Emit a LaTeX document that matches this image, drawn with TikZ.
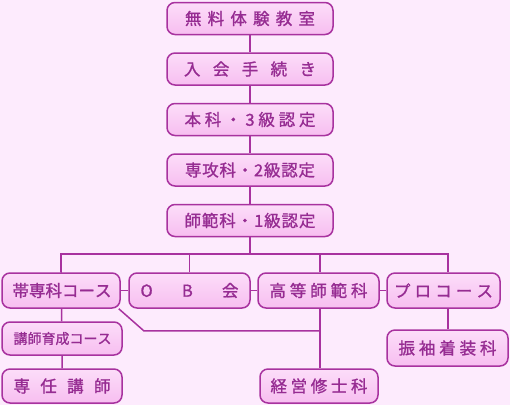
\documentclass[tikz,border=0pt]{standalone}
\usepackage{fontspec}
\usepackage{xcolor}
\usepackage{tikz}
\usetikzlibrary{positioning,calc,backgrounds}

\newfontfamily\jpfont[FakeBold=1.2]{Noto Sans CJK JP}
\definecolor{bgpink}{HTML}{FDEBFD}
\definecolor{boxtop}{HTML}{FCDDF9}
\definecolor{boxbot}{HTML}{F7BEF0}
\definecolor{edgepurple}{HTML}{A8329F}
\definecolor{textpurple}{HTML}{962C92}
\newcommand{\spread}[2]{\makebox[#1][s]{#2}}

\begin{document}
\begin{tikzpicture}[
  x=1pt,y=-1pt,
  node distance=17pt,
  every node/.style={font=\jpfont\fontsize{16.5}{18}\selectfont,text=textpurple},
  course/.style={draw=edgepurple,line width=1.5pt,rounded corners=8pt,
                 top color=boxtop,bottom color=boxbot,align=center,inner sep=0pt},
  stage/.style={course,minimum width=166pt,minimum height=32pt},
  link/.style={draw=edgepurple,line width=1.5pt}
]
  \useasboundingbox (0,0) rectangle (510,405);

  % main line
  \node[stage] (trial) at (250,18.5) {\spread{130pt}{無\hfil 料\hfil 体\hfil 験\hfil 教\hfil 室}};
  \node[stage,below=of trial] (entry) {\spread{132pt}{入\hfil 会\hfil 手\hfil 続\hfil き}};
  \node[stage,below=of entry] (honka) {\spread{131pt}{本\hfil 科\hfil ・\hfil 3\hfil 級\hfil 認\hfil 定}};
  \node[stage,below=of honka] (senko) {\spread{130pt}{専\hfil 攻\hfil 科\hfil ・\hfil 2\hfil 級\hfil 認\hfil 定}};
  \node[stage,below=of senko] (shihan){\spread{131pt}{師\hfil 範\hfil 科\hfil ・\hfil 1\hfil 級\hfil 認\hfil 定}};

  % branch row
  \node[course,minimum width=118pt,minimum height=35pt] (taisen) at (61,290.5)
       {\spread{97pt}{帯\hfil 専\hfil 科\hfil コ\hfil ー\hfil ス}};
  \node[course,minimum width=121pt,minimum height=35pt] (ob) at (189.5,290.5)
       {\spread{98pt}{O\hfil B\hfil 会}};
  \node[course,minimum width=121pt,minimum height=35pt] (koto) at (318.5,290.5)
       {\spread{98pt}{高\hfil 等\hfil 師\hfil 範\hfil 科}};
  \node[course,minimum width=113pt,minimum height=35pt] (pro) at (443.5,290.5)
       {\spread{99pt}{プ\hfil ロ\hfil コ\hfil ー\hfil ス}};

  % lower boxes
  \node[course,minimum width=120pt,minimum height=33pt] (koshi) at (62,338.5)
       {\fontsize{14}{16}\selectfont\spread{97pt}{講\hfil 師\hfil 育\hfil 成\hfil コ\hfil ー\hfil ス}};
  \node[course,minimum width=120pt,minimum height=34pt] (sennin) at (62,386)
       {\spread{97pt}{専\hfil 任\hfil 講\hfil 師}};
  \node[course,minimum width=118pt,minimum height=34pt] (keiei) at (319,386)
       {\spread{97pt}{経\hfil 営\hfil 修\hfil 士\hfil 科}};
  \node[course,minimum width=121pt,minimum height=36pt] (furisode) at (447.5,348)
       {\spread{98pt}{振\hfil 袖\hfil 着\hfil 装\hfil 科}};

  % connectors, behind the boxes
  \begin{scope}[on background layer]
    \fill[bgpink] (0,0) rectangle (510,405);
    \coordinate (bus) at (250,254);
    \draw[link] (trial) -- (entry) -- (honka) -- (senko) -- (shihan) -- (bus);
    \draw[link] (taisen.north) |- (bus) -| ([xshift=4.5pt]pro.north);
    \draw[link] (ob.north) -- (ob.north |- bus);
    \draw[link] ([xshift=1.5pt]koto.north) -- ([xshift=1.5pt]koto.north |- bus);
    \draw[link] (taisen) -- (ob) -- (koto) -- (pro);
    \draw[link] (taisen.north) -- (koshi) -- (sennin);
    \draw[link] ([xshift=-2pt]taisen.south east) -- ++(25,22) coordinate (joint)
                -- (joint -| keiei.north);
    \draw[link] ([xshift=1.5pt]koto.south) -- ([xshift=1.5pt]koto.south |- keiei.north);
    \draw[link] ([xshift=4.5pt]pro.south) -- ([xshift=4.5pt]pro.south |- furisode.north);
  \end{scope}
\end{tikzpicture}
\end{document}
